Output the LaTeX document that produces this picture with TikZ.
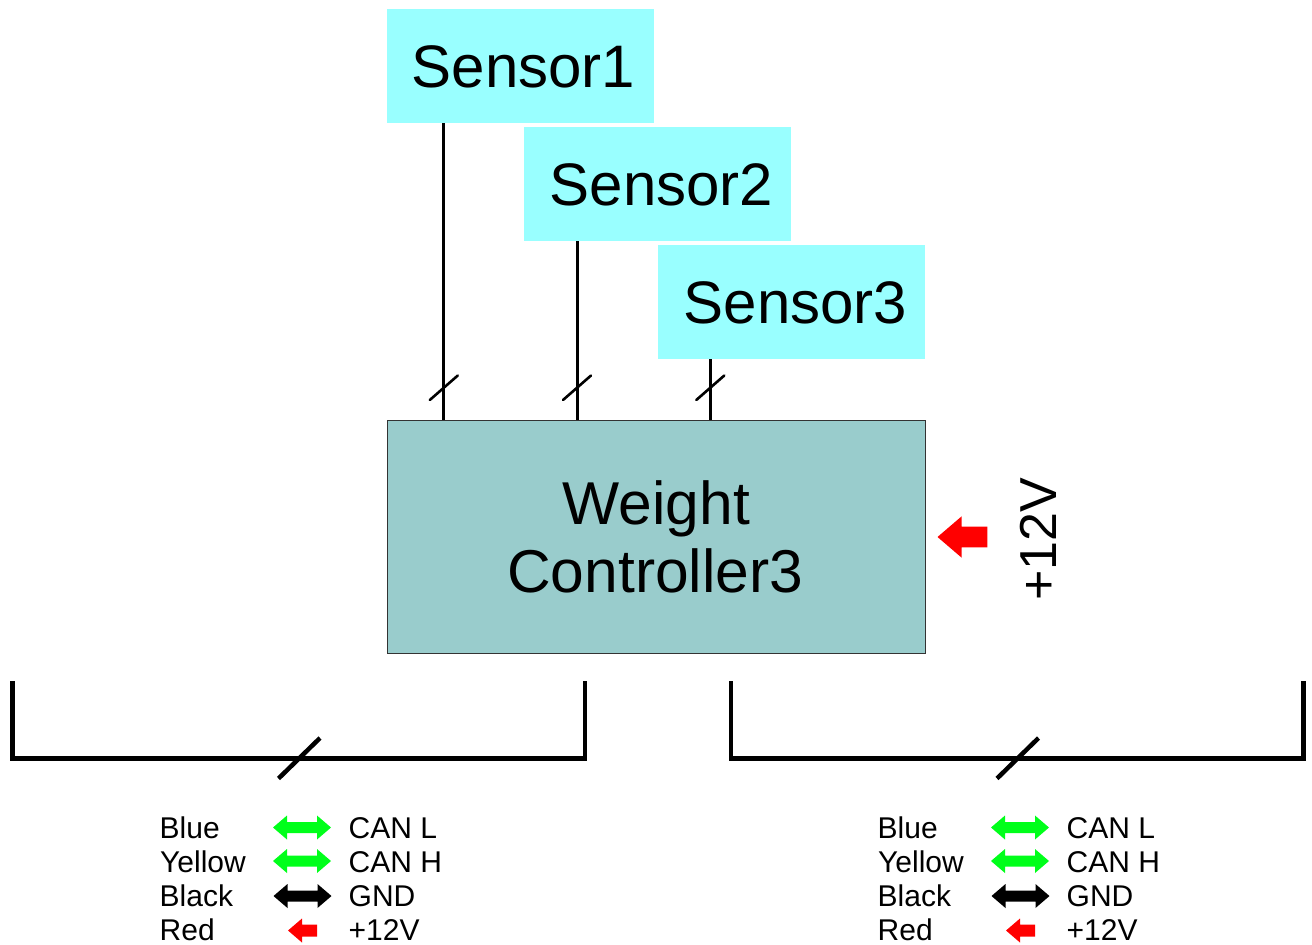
\documentclass[tikz,border=0pt]{standalone}
\usepackage{fontspec}
\setmainfont{Liberation Sans}
\definecolor{sensorfill}{HTML}{99FFFF}
\definecolor{ctrlfill}{HTML}{99CCCC}
\definecolor{arrowgreen}{HTML}{00FF1A}
\newcommand{\fsz}[1]{\fontsize{#1}{#1}\selectfont}
\tikzset{
  sensorbox/.style={fill=sensorfill,inner sep=0pt,minimum width=267pt,minimum height=114pt,
    text height=42pt,text depth=0pt,font=\fsz{60}},
  ctrlbox/.style={fill=ctrlfill,draw=black!80,line width=1pt,inner sep=0pt,minimum width=537.5pt,minimum height=233pt,
    align=center,font=\fontsize{60.5}{68}\selectfont},
  wire/.style={line width=2.8pt,black},
  tick/.style={line width=2.6pt,black,line cap=round},
  bus/.style={line width=4.5pt,black,line join=miter},
  bustick/.style={line width=4.5pt,black},
  legend/.style={anchor=base west,inner sep=0pt,font=\fsz{30}},
  pics/dblarrow/.style={code={
    \fill[#1] (0,0) -- (14,-12) -- (14,-5.5) -- (44,-5.5) -- (44,-12) -- (58,0) -- (44,12) -- (44,5.5) -- (14,5.5) -- (14,12) -- cycle;
  }},
  pics/redarrow/.style={code={
    \fill[red,scale=#1] (0,0) -- (14,-12) -- (14,-6) -- (29,-6) -- (29,6) -- (14,6) -- (14,12) -- cycle;
  }},
}
\begin{document}
\begin{tikzpicture}[x=1pt,y=-1pt]
\useasboundingbox (0,0) rectangle (1312,945);
% boxes
\node[sensorbox] (s1) at (520.5,66) {\hspace*{6pt}Sensor1};
\node[sensorbox] (s2) at (657.5,184) {\hspace*{8pt}Sensor2};
\node[sensorbox] (s3) at (791.5,302) {\hspace*{8pt}Sensor3};
\node[ctrlbox] (wc) at (656.25,536.5) {Weight\\Controller3\hspace*{2pt}};
% wires
\coordinate (w1) at (443.5,420);
\coordinate (w2) at (577.2,420);
\coordinate (w3) at (710.5,420);
\draw[wire] (s1.south -| w1) -- (w1);
\draw[wire] (s2.south -| w2) -- (w2);
\draw[wire] (s3.south -| w3) -- (w3);
\foreach \n/\x in {a/429.8,b/563,c/696.3}{
  \coordinate (t\n1) at (\x,400);
  \coordinate (t\n2) at ({\x+28},375.5);
  \draw[tick] (t\n1) -- (t\n2);
}
% power input
\pic at (937.5,537) {redarrow=1.72};
\node[rotate=90,anchor=base west,inner sep=0pt,font=\fsz{52}] (pw) at (1056.5,601) {+12V};
% buses
\foreach \n/\dx in {l/0,r/718.5}{
  \coordinate (\n a) at ({12.5+\dx},681);
  \coordinate (\n b) at ({12.5+\dx},758.5);
  \coordinate (\n c) at ({585+\dx},758.5);
  \coordinate (\n d) at ({585+\dx},681);
  \coordinate (\n e) at ({278.5+\dx},778.5);
  \coordinate (\n f) at ({320+\dx},738);
  \draw[bus] (\n a) -- (\n b) -- (\n c) -- (\n d);
  \draw[bustick] (\n e) -- (\n f);
}
% legends
\foreach \n/\dx in {l/0,r/718}{
  \node[legend] (\n blue) at ({159.5+\dx},838.5) {Blue};
  \node[legend] (\n yellow) at ({160+\dx},872.5) {Yellow};
  \node[legend] (\n black) at ({159.5+\dx},906.5) {Black};
  \node[legend] (\n red) at ({159.5+\dx},940.5) {Red};
  \pic at ({273+\dx},827.5) {dblarrow=arrowgreen};
  \pic at ({273+\dx},861) {dblarrow=arrowgreen};
  \pic at ({273.5+\dx},896) {dblarrow=black};
  \pic at ({288+\dx},930.5) {redarrow=1};
  \node[legend] (\n canl) at ({348.5+\dx},838.5) {CAN L};
  \node[legend] (\n canh) at ({348.5+\dx},872.5) {CAN H};
  \node[legend] (\n gnd) at ({348.5+\dx},906.5) {GND};
  \node[legend] (\n pw) at ({348.5+\dx},940.5) {+12V};
}
\end{tikzpicture}
\end{document}
